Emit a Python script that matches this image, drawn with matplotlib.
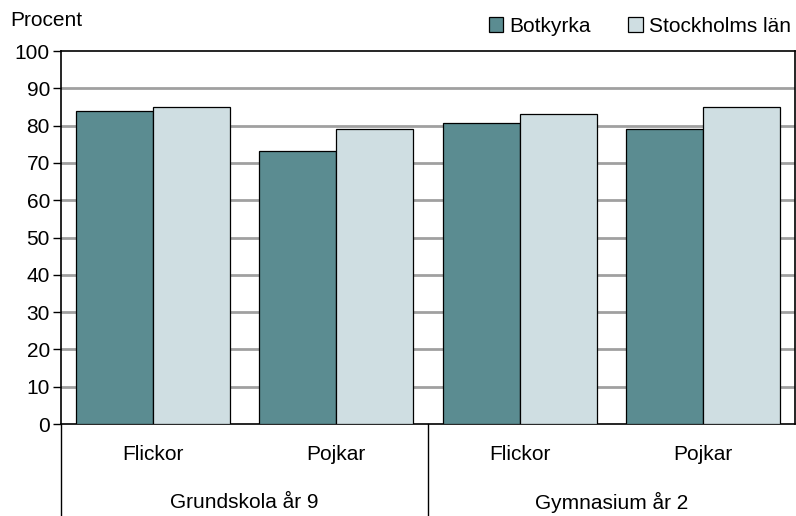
import matplotlib
matplotlib.use("Agg")
import matplotlib.pyplot as plt
import numpy as np

groups = ["Grundskola år 9", "Gymnasium år 2"]
subcats = ["Flickor", "Pojkar", "Flickor", "Pojkar"]
series_names = ["Botkyrka", "Stockholms län"]
botkyrka = [84, 73.3, 80.7, 79.1]
stockholm = [85, 79.1, 83, 85]
yticks = [0, 10, 20, 30, 40, 50, 60, 70, 80, 90, 100]

colors = ["#5B8C91", "#CFDEE2"]
FS = 15

plt.rcParams['font.family'] = ['Liberation Sans', 'DejaVu Sans']
fig = plt.figure(figsize=(7.96, 5.16), dpi=100)
W, H = 796, 516
L, R, T, B = 61, 795, 51, 424
ax = fig.add_axes([L / W, 1 - B / H, (R - L) / W, (B - T) / H])

x = np.arange(len(subcats))
bw = 0.42
ax.bar(x - bw / 2, botkyrka, bw, color=colors[0], edgecolor="black", linewidth=0.9, label=series_names[0], zorder=3)
ax.bar(x + bw / 2, stockholm, bw, color=colors[1], edgecolor="black", linewidth=0.9, label=series_names[1], zorder=3)

ax.set_xlim(-0.5, len(subcats) - 0.5)
ax.set_ylim(0, 100)
ax.set_yticks(yticks)
ax.set_yticklabels([str(v) for v in yticks], fontsize=FS)
ax.tick_params(axis="y", direction="out", length=6, width=1, pad=2)
ax.set_xticks([])
for v in yticks[1:-1]:
    ax.axhline(v, color="#a0a0a0", linewidth=2, zorder=1)
for s in ax.spines.values():
    s.set_linewidth(1.2)
    s.set_color("black")

# category labels
trans = ax.get_xaxis_transform()
for i, lab in enumerate(subcats):
    ax.text(x[i], -(455 - B) / (B - T), lab, transform=trans, ha="center", va="center", fontsize=FS)
for g, lab in enumerate(groups):
    ax.text(2 * g + 0.5, -(502 - B) / (B - T), lab, transform=trans, ha="center", va="center", fontsize=FS)
for xs in [-0.5, 1.5]:
    ax.plot([xs, xs], [0, -(H - B) / (B - T)], transform=trans, color="black", linewidth=1, clip_on=False)

fig.text(10 / W, 1 - 20 / H, "Procent", ha="left", va="center", fontsize=FS)

leg = fig.legend(loc="center right", bbox_to_anchor=(810 / W, 1 - 26 / H), ncol=2, frameon=False,
                 fontsize=FS, handlelength=0.7, handleheight=0.7, handletextpad=0.3,
                 columnspacing=1.8)

fig.savefig("out.png", dpi=100)
